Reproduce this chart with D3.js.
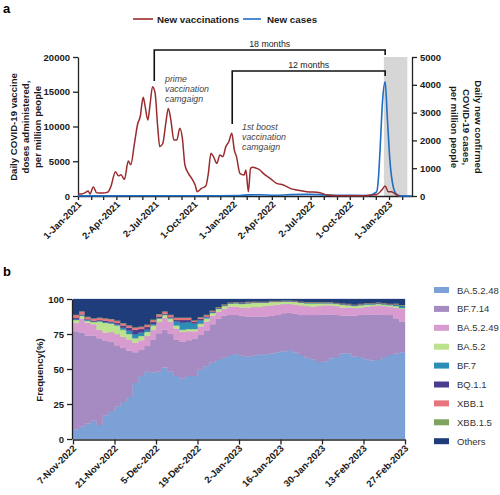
<!DOCTYPE html>
<html><head><meta charset="utf-8">
<script src="https://cdn.jsdelivr.net/npm/d3@7"></script>
<style>
body{margin:0;background:#fff}
svg{display:block}
text{font-family:"Liberation Sans",Arial,Helvetica,sans-serif}
</style>
</head><body>
<svg id="c" width="500" height="495"></svg>
<script>
// ---------- Panel a data ----------
const aStart = "2021-01-01";
const vaxDays = [0,9,16,24,28,36,44,55,63,71,77,88,95,101,109,118,124,132,140,146,153,157,164,169,175,181,187,192,199,206,212,218,225,232,239,245,251,259,267,275,280,290,300,306,312,318,326,333,340,347,354,361,367,372,380,390,394,400,405,410,419,427,435,451,466,482,498,513,537,568,584,607,640,670,701,713,721,728,736,748,756];
const vaxValues = [300,300,450,720,300,1300,450,420,450,600,1340,3500,2900,3050,2400,5030,4500,7340,10360,11400,14200,13100,10930,13100,15730,14800,10000,7100,7550,10450,12600,10930,8070,8070,9740,8300,4460,3260,2540,1580,620,1100,1430,3260,6140,5670,4700,5900,5670,7100,7800,9020,6600,5670,3260,3020,3740,620,3980,4120,3980,3740,3260,2540,1820,1580,1100,860,620,480,140,50,40,50,200,860,1440,620,620,140,0];
const caseDays = [0,60,120,200,300,380,400,427,460,500,540,580,620,680,701,705,709,715,721,726,732,740,748,756,784];
const caseValues = [5,5,10,8,10,20,40,45,25,50,60,40,25,20,150,600,1650,3450,4110,2850,1300,330,60,5,0];
const aTickDates = ["2021-01-01","2021-04-02","2021-07-02","2021-10-01","2022-01-01","2022-04-02","2022-07-02","2022-10-01","2023-01-01"];
const aTickLabels = ["1-Jan-2021","2-Apr-2021","2-Jul-2021","1-Oct-2021","1-Jan-2022","2-Apr-2022","2-Jul-2022","1-Oct-2022","1-Jan-2023"];
const leftTicks = [0,5000,10000,15000,20000];
const rightTicks = [0,1000,2000,3000,4000,5000];
const shadeRange = ["2022-12-20","2023-02-13"];
const bracket18 = ["2021-06-29","2022-12-23"];
const bracket12 = ["2021-12-29","2022-12-23"];

// ---------- Panel b data (2-day bins from 7-Nov-2022) ----------
const bStart = "2022-11-07";
const bEnd = "2023-02-27";
const binDays = 2;
const variants = ["BA.5.2.48","BF.7.14","BA.5.2.49","BA.5.2","BF.7","BQ.1.1","XBB.1","XBB.1.5","Others"];
const variantColors = ["#7ba1d6","#a58bc2","#d89bd0","#bde28d","#2b8fb5","#4b3c8f","#e8747c","#7da35f","#1f3d7a"];
const BA5248 = [7,9,11,13,10,17,20,23,26.5,30,40,45,48,47.5,48,51,48,45,43,45,45,49.5,52,54.5,56.5,58,60,60.5,59.5,59,59.5,60.5,60.5,61,62,62.5,63.5,62,60,58,57,55,55.5,57.5,58.5,61,61,59,58.5,57,56,56.5,58.5,60,61,62];
const BF714 = [70,67,63,61,62,53,49.5,44,38.5,33,22,18.5,18.5,23.5,27.5,27,27,26,26.5,25.5,26.5,24.8,25.5,27.5,29.5,30,28.6,28,28.5,28.5,28,27,27,27,26.5,27.3,26.7,27.5,28.6,30.6,31.6,33.6,33.5,31.5,30,27,27,29,30,32,33,32.5,30.1,28.6,25,22];
const BA5249 = [6,10,9,8,6,6,7,8,8,8,7,7,7,7,8,8.5,9,8,7,6.5,5.5,6,6.5,6,5,5,6,6,6,6.5,6.8,7,7.5,7.5,7.5,6.7,6.3,6.5,6.9,6.4,5.9,6.4,6.5,6.5,6.5,6,6,5.5,5.5,5.5,6,6.5,6.4,5.9,8,9];
const BA52 = [2,2,1.5,1.5,6,7,6,6,5,4,3,3,3,3,2.5,2,2,2,1.5,1.5,1.5,2,2,2,2,2,2.2,2.5,2.5,3,3,3,2.5,2.5,2,1.8,1.8,2,2,2,2.5,2,1.5,1.5,1.5,2,1.5,1.5,1.5,1.5,1,1,1,1,1,0.5];
const BF7 = [0.5,0.5,0.5,0.5,0.5,0.5,0.5,0.8,1.5,2.5,3,2.5,1.5,1,0.5,0.5,0.5,3,5,5,4,2.5,1,0.5,0.3,0.3,0.2,0.2,0.3,0.2,0.2,0.2,0.2,0.2,0.2,0.2,0.2,0.2,0.2,0.2,0.2,0.2,0.2,0.2,0.3,0.3,0.5,0.5,0.5,0.5,0.5,0.5,0.5,0.5,1,1.5];
const BQ11 = [1,0.5,0.5,0.5,0.5,1,1,1,1.5,2,3,2.5,2,1.5,1,0.5,0.5,1,2,1.5,1,1,0.5,0.5,0.3,0.3,0.2,0.2,0.3,0.2,0.2,0.2,0.2,0.2,0.2,0.2,0.2,0.2,0.2,0.2,0.2,0.2,0.2,0.2,0.2,0.2,0.2,0.2,0.2,0.2,0.2,0.2,0.2,0.2,0.2,0.2];
const XBB1 = [2,2,1.5,1.5,1.5,1.5,1.5,1.5,1.5,1.5,1.5,1.5,1.5,1.5,1.5,1.5,1.5,1.5,1.5,1.5,1,1,1,0.5,0.3,0.3,0.2,0.2,0.3,0.3,0.3,0.2,0.2,0.2,0.2,0.2,0.2,0.2,0.2,0.2,0.2,0.2,0.2,0.2,0.2,0.2,0.2,0.2,0.2,0.2,0.2,0.2,0.2,0.2,0.2,0.2];
const XBB15 = [0.3,0.3,0.3,0.3,0.3,0.3,0.3,0.3,0.3,0.3,0.3,0.3,0.3,0.3,0.3,0.3,0.3,0.3,0.3,0.3,0.3,0.3,0.3,0.3,0.3,0.3,0.2,0.2,0.3,0.3,0.3,0.2,0.2,0.2,0.2,0.2,0.2,0.2,0.2,0.2,0.2,0.2,0.2,0.2,0.2,0.2,0.2,0.2,0.2,0.2,0.2,0.2,0.2,0.2,0.3,0.4];
const Others = [11.2,8.7,12.7,13.7,13.2,13.7,14.2,15.4,17.2,18.7,20.2,19.7,18.2,14.7,10.7,8.7,11.2,13.2,13.2,13.2,15.2,12.9,11.2,8.2,5.8,3.8,2.4,2.2,2.3,2,1.7,1.7,1.7,1.2,1.2,0.9,0.9,1.2,1.7,2.2,2.2,2.2,2.2,2.2,2.6,3.1,3.4,3.9,3.4,2.9,2.9,2.4,2.9,3.4,3.3,4.2];
const bTickLabels = ["7-Nov-2022","21-Nov-2022","5-Dec-2022","19-Dec-2022","2-Jan-2023","16-Jan-2023","30-Jan-2023","13-Feb-2023","27-Feb-2023"];
const bYTicks = [0,25,50,75,100];

// ---------- drawing ----------
const svg = d3.select("#c");
const parse = d3.utcParse("%Y-%m-%d");
const FONT = '"Liberation Sans",Arial,Helvetica,sans-serif';
const tc = "#1a1a1a";
const fmt = d3.format("d");

// Panel labels
svg.append("text").attr("x",3).attr("y",13).attr("font-size",13).attr("font-weight","bold").text("a");
svg.append("text").attr("x",3).attr("y",276).attr("font-size",13).attr("font-weight","bold").text("b");

// ===== Panel a =====
const a0 = parse(aStart);
const xA = d3.scaleUtc().domain([a0, parse("2023-02-24")]).range([78,412]);
const yL = d3.scaleLinear().domain([0,20000]).range([196,57]);
const yR = d3.scaleLinear().domain([0,5000]).range([196,57]);
const gA = svg.append("g");

// shaded region
gA.append("rect")
  .attr("x", xA(parse(shadeRange[0]))).attr("y", yR(5000))
  .attr("width", xA(parse(shadeRange[1])) - xA(parse(shadeRange[0])))
  .attr("height", yR(0) - yR(5000))
  .attr("fill","#d6d6d6");

const vax = vaxDays.map((d,i)=>({date:d3.utcDay.offset(a0,d), v:vaxValues[i]}));
const cases = caseDays.map((d,i)=>({date:d3.utcDay.offset(a0,d), v:caseValues[i]}));

// axes
const axL = gA.append("g").attr("transform","translate(78,0)")
  .call(d3.axisLeft(yL).tickValues(leftTicks).tickFormat(fmt).tickSize(5).tickSizeOuter(0).tickPadding(3));
const axR = gA.append("g").attr("transform","translate(412,0)")
  .call(d3.axisRight(yR).tickValues(rightTicks).tickFormat(fmt).tickSize(5).tickSizeOuter(0).tickPadding(3));
const monthTicks = d3.utcMonth.range(a0, parse("2023-02-24"));
const axX = gA.append("g").attr("transform","translate(0,196)")
  .call(d3.axisBottom(xA).tickValues(monthTicks).tickSize(4).tickSizeOuter(0).tickFormat(""));
[axL,axR,axX].forEach(g=>{
  g.selectAll("path,line").attr("stroke","#222").attr("stroke-width",1.3);
  g.selectAll("text").attr("font-family",FONT).attr("font-size",9.5).attr("font-weight","bold").attr("fill",tc);
});
// date labels
aTickDates.forEach((d,i)=>{
  const x = xA(parse(d));
  gA.append("text").attr("transform",`translate(${x+4},${205}) rotate(-45)`)
    .attr("text-anchor","end").attr("font-size",9.5).attr("font-weight","bold").attr("fill",tc)
    .text(aTickLabels[i]);
});

// lines
gA.append("path").datum(cases)
  .attr("d", d3.line().x(d=>xA(d.date)).y(d=>yR(d.v)).curve(d3.curveMonotoneX))
  .attr("fill","none").attr("stroke","#1f6ec4").attr("stroke-width",1.6);
gA.append("path").datum(vax)
  .attr("d", d3.line().x(d=>xA(d.date)).y(d=>yL(d.v)).curve(d3.curveMonotoneX))
  .attr("fill","none").attr("stroke","#9a2b2e").attr("stroke-width",1.5);

// brackets
function bracket(dates, yTop, yLeftEnd, yRightEnd){
  const x1 = xA(parse(dates[0])), x2 = xA(parse(dates[1]));
  gA.append("path").attr("d",`M${x1},${yLeftEnd}V${yTop}H${x2}V${yRightEnd}`)
    .attr("fill","none").attr("stroke","#111").attr("stroke-width",1.6);
  return (x1+x2)/2;
}
const c18 = bracket(bracket18, 50, 81, 55);
const c12 = bracket(bracket12, 71, 124, 76);
gA.append("text").attr("x",c18).attr("y",47).attr("text-anchor","middle").attr("font-size",8.8).attr("fill","#222").text("18 months");
gA.append("text").attr("x",c12).attr("y",68).attr("text-anchor","middle").attr("font-size",8.8).attr("fill","#222").text("12 months");

// annotations
[["prime",82],["vaccination",92],["camgaign",102]].forEach(([t,y])=>
  gA.append("text").attr("x",165).attr("y",y).attr("font-size",8.8).attr("font-style","italic").attr("fill","#444").text(t));
[["1st boost",130],["vaccination",140],["camgaign",150]].forEach(([t,y])=>
  gA.append("text").attr("x",242).attr("y",y).attr("font-size",8.8).attr("font-style","italic").attr("fill","#444").text(t));

// legend a
gA.append("line").attr("x1",133).attr("x2",153).attr("y1",19).attr("y2",19).attr("stroke","#9a2b2e").attr("stroke-width",1.6);
gA.append("text").attr("x",157).attr("y",22.5).attr("font-size",9.8).attr("font-weight","bold").attr("fill",tc).text("New vaccinations");
gA.append("line").attr("x1",243).attr("x2",261).attr("y1",19).attr("y2",19).attr("stroke","#1f6ec4").attr("stroke-width",1.6);
gA.append("text").attr("x",267).attr("y",22.5).attr("font-size",9.8).attr("font-weight","bold").attr("fill",tc).text("New cases");

// axis titles
["Daily COVID-19 vaccine","doses administered,","per million people"].forEach((t,i)=>{
  gA.append("text").attr("transform",`translate(${17+i*12},127) rotate(-90)`)
    .attr("text-anchor","middle").attr("font-size",9.6).attr("font-weight","bold").attr("fill",tc).text(t);
});
["Daily new confirmed","COVID-19 cases,","per million people"].forEach((t,i)=>{
  gA.append("text").attr("transform",`translate(${474.5-i*12},127) rotate(90)`)
    .attr("text-anchor","middle").attr("font-size",9.6).attr("font-weight","bold").attr("fill",tc).text(t);
});

// ===== Panel b =====
const b0 = parse(bStart);
const xB = d3.scaleUtc().domain([b0, parse(bEnd)]).range([73,405]);
const yB = d3.scaleLinear().domain([0,1]).range([439,299]);
const gB = svg.append("g");

const seriesArrays = [BA5248,BF714,BA5249,BA52,BF7,BQ11,XBB1,XBB15,Others];
const rows = BA5248.map((_,k)=>{
  const o = {date:d3.utcDay.offset(b0,k*binDays)};
  variants.forEach((v,j)=>o[v]=seriesArrays[j][k]);
  return o;
});
// closing row so the last step reaches the end date
const lastRow = Object.assign({}, rows[rows.length-1], {date:d3.utcDay.offset(b0,rows.length*binDays)});
const rowsExt = rows.concat([lastRow]);
const stack = d3.stack().keys(variants).offset(d3.stackOffsetExpand)(rowsExt);
const area = d3.area().x(d=>xB(d.data.date)).y0(d=>yB(d[0])).y1(d=>yB(d[1])).curve(d3.curveStepAfter);
stack.forEach((layer,j)=>{
  gB.append("path").datum(layer).attr("d",area).attr("fill",variantColors[j])
    .attr("stroke",variantColors[j]).attr("stroke-width",0.3);
});

const bTicks = d3.range(0,9).map(i=>d3.utcDay.offset(b0,i*14));
const axBx = gB.append("g").attr("transform","translate(0,439.5)")
  .call(d3.axisBottom(xB).tickValues(bTicks).tickSize(5).tickSizeOuter(0).tickFormat(""));
const axBy = gB.append("g").attr("transform","translate(72,0)")
  .call(d3.axisLeft(d3.scaleLinear().domain([0,100]).range([439,299])).tickValues(bYTicks).tickFormat(fmt).tickSize(5).tickSizeOuter(0).tickPadding(3));
[axBx,axBy].forEach(g=>{
  g.selectAll("path,line").attr("stroke","#222").attr("stroke-width",1.3);
  g.selectAll("text").attr("font-family",FONT).attr("font-size",9.5).attr("font-weight","bold").attr("fill",tc);
});
bTicks.forEach((d,i)=>{
  const x = xB(d);
  gB.append("text").attr("transform",`translate(${x+4},${449}) rotate(-45)`)
    .attr("text-anchor","end").attr("font-size",9.5).attr("font-weight","bold").attr("fill",tc)
    .text(bTickLabels[i]);
});
gB.append("text").attr("transform","translate(43,370) rotate(-90)")
  .attr("text-anchor","middle").attr("font-size",9.6).attr("font-weight","bold").attr("fill",tc).text("Frequency(%)");

// legend b
variants.forEach((v,j)=>{
  const y = 290 + j*18.9;
  gB.append("rect").attr("x",434).attr("y",y-3).attr("width",15).attr("height",6).attr("fill",variantColors[j]);
  gB.append("text").attr("x",457).attr("y",y+3.5).attr("font-size",9.5).attr("fill","#333").text(v);
});
</script>
</body></html>
